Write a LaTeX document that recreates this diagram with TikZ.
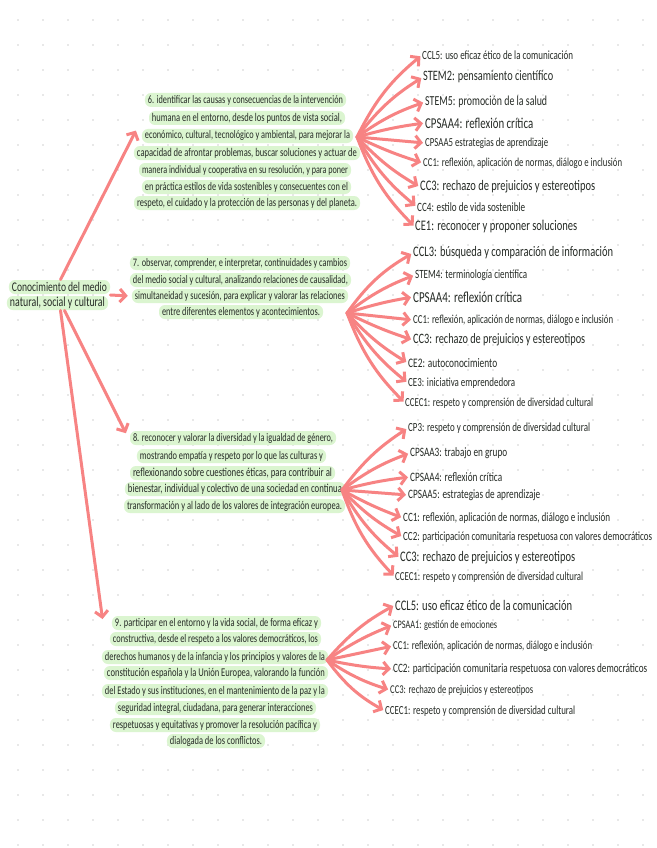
\documentclass[tikz,border=0pt]{standalone}
\usepackage{graphicx}
\usepackage{fontspec}
\setmainfont{Carlito}[FakeStretch=0.72]
\usetikzlibrary{arrows.meta,calc,fit}
\definecolor{hlgreen}{HTML}{DBF5D0}
\definecolor{arrpink}{HTML}{F78383}
\definecolor{ink}{HTML}{262B26}
\definecolor{dotgray}{HTML}{D2D2D2}
% line of a highlighted block: name, x1, x2, y, text
\newcommand\mline[5]{\node[hlline] (#1) at ({(#2+#3)/2},#4) {\resizebox{\dimexpr #3pt-#2pt\relax}{!}{#5}};}
% label: name, x1, x2, y, text
\newcommand\lab[5]{\node[lbl] (#1) at (#2,#4) {\resizebox{\dimexpr #3pt-#2pt\relax}{!}{#5}};}
\tikzset{
  hlline/.style={fill=hlgreen, rounded corners=6pt, inner xsep=3pt, inner ysep=0pt, minimum height=14pt, text=ink},
  lbl/.style={anchor=west, inner sep=0pt, text=ink},
  arr/.style={draw=arrpink, line width=3pt, line cap=round, line join=round, shorten >=2pt, -{Straight Barb[length=6pt,width=13pt]}}
}
\begin{document}
\begin{tikzpicture}[x=1pt,y=-1pt]
\useasboundingbox (0,0) rectangle (656,848);
\fill[white] (0,0) rectangle (656,848);
\foreach \x in {18,43,...,656} \foreach \y in {20,45,...,848} \fill[dotgray] (\x,\y) circle (0.9);

% root
\mline{r1}{12}{107}{287}{Conocimiento del medio}
\mline{r2}{10}{105}{303}{natural, social y cultural}
\node[fit=(r1)(r2), inner sep=0pt] (root) {};

% block 1
\mline{b1l1}{148}{343}{100}{6. identificar las causas y consecuencias de la intervención}
\mline{b1l2}{152}{342}{118}{humana en el entorno, desde los puntos de vista social,}
\mline{b1l3}{145}{350}{136}{económico, cultural, tecnológico y ambiental, para mejorar la}
\mline{b1l4}{137}{357}{153}{capacidad de afrontar problemas, buscar soluciones y actuar de}
\mline{b1l5}{142}{348}{170}{manera individual y cooperativa en su resolución, y para poner}
\mline{b1l6}{145}{348}{187}{en práctica estilos de vida sostenibles y consecuentes con el}
\mline{b1l7}{137}{357}{203}{respeto, el cuidado y la protección de las personas y del planeta.}

% block 2
\mline{b2l1}{133}{347}{263}{7. observar, comprender, e interpretar, continuidades y cambios}
\mline{b2l2}{133}{348}{280}{del medio social y cultural, analizando relaciones de causalidad,}
\mline{b2l3}{135}{345}{296}{simultaneidad y sucesión, para explicar y valorar las relaciones}
\mline{b2l4}{162}{320}{312}{entre diferentes elementos y acontecimientos.}

% block 3
\mline{b3l1}{133}{333}{438}{8. reconocer y valorar la diversidad y la igualdad de género,}
\mline{b3l2}{140}{323}{456}{mostrando empatía y respeto por lo que las culturas y}
\mline{b3l3}{133}{332}{473}{reflexionando sobre cuestiones éticas, para contribuir al}
\mline{b3l4}{128}{342}{489}{bienestar, individual y colectivo de una sociedad en continua}
\mline{b3l5}{127}{342}{506}{transformación y al lado de los valores de integración europea.}

% block 4
\mline{b4l1}{115}{318}{623}{9. participar en el entorno y la vida social, de forma eficaz y}
\mline{b4l2}{113}{318}{639}{constructiva, desde el respeto a los valores democráticos, los}
\mline{b4l3}{105}{325}{657}{derechos humanos y de la infancia y los principios y valores de la}
\mline{b4l4}{107}{325}{673}{constitución española y la Unión Europea, valorando la función}
\mline{b4l5}{105}{325}{691}{del Estado y sus instituciones, en el mantenimiento de la paz y la}
\mline{b4l6}{118}{313}{708}{seguridad integral, ciudadana, para generar interacciones}
\mline{b4l7}{113}{317}{725}{respetuosas y equitativas y promover la resolución pacífica y}
\mline{b4l8}{170}{262}{741}{dialogada de los conflictos.}

% labels block 1
\lab{a1}{422}{573}{55}{CCL5: uso eficaz ético de la comunicación}
\lab{a2}{423}{553}{77}{STEM2: pensamiento científico}
\lab{a3}{425}{547}{102}{STEM5: promoción de la salud}
\lab{a4}{425}{533}{123}{CPSAA4: reflexión crítica}
\lab{a5}{425}{548}{143}{CPSAA5 estrategias de aprendizaje}
\lab{a6}{423}{622}{163}{CC1: reflexión, aplicación de normas, diálogo e inclusión}
\lab{a7}{420}{595}{187}{CC3: rechazo de prejuicios y estereotipos}
\lab{a8}{417}{525}{207}{CC4: estilo de vida sostenible}
\lab{a9}{415}{577}{227}{CE1: reconocer y proponer soluciones}

% labels block 2
\lab{c1}{413}{613}{253}{CCL3: búsqueda y comparación de información}
\lab{c2}{415}{527}{275}{STEM4: terminología científica}
\lab{c3}{413}{522}{297}{CPSAA4: reflexión crítica}
\lab{c4}{413}{613}{320}{CC1: reflexión, aplicación de normas, diálogo e inclusión}
\lab{c5}{413}{585}{340}{CC3: rechazo de prejuicios y estereotipos}
\lab{c6}{408}{497}{363}{CE2: autoconocimiento}
\lab{c7}{408}{515}{383}{CE3: iniciativa emprendedora}
\lab{c8}{405}{593}{403}{CCEC1: respeto y comprensión de diversidad cultural}

% labels block 3
\lab{d1}{408}{590}{428}{CP3: respeto y comprensión de diversidad cultural}
\lab{d2}{410}{507}{453}{CPSAA3: trabajo en grupo}
\lab{d3}{410}{502}{477}{CPSAA4: reflexión crítica}
\lab{d4}{408}{540}{495}{CPSAA5: estrategias de aprendizaje}
\lab{d5}{403}{610}{518}{CC1: reflexión, aplicación de normas, diálogo e inclusión}
\lab{d6}{403}{652}{537}{CC2: participación comunitaria respetuosa con valores democráticos}
\lab{d7}{400}{575}{558}{CC3: rechazo de prejuicios y estereotipos}
\lab{d8}{395}{583}{577}{CCEC1: respeto y comprensión de diversidad cultural}

% labels block 4
\lab{e1}{395}{572}{605}{CCL5: uso eficaz ético de la comunicación}
\lab{e2}{393}{497}{625}{CPSAA1: gestión de emociones}
\lab{e3}{393}{592}{646}{CC1: reflexión, aplicación de normas, diálogo e inclusión}
\lab{e4}{393}{647}{669}{CC2: participación comunitaria respetuosa con valores democráticos}
\lab{e5}{390}{533}{690}{CC3: rechazo de prejuicios y estereotipos}
\lab{e6}{385}{575}{711}{CCEC1: respeto y comprensión de diversidad cultural}

% fan origins
\coordinate (f1) at (357,137);
\coordinate (f2) at (347,313);
\coordinate (f3) at (342,490);
\coordinate (f4) at (327,660);

% root arrows
\draw[arr] ($(root.north)+(2,0)$) -- ($(b1l3.north west)+(-5,0)$);
\draw[arr] (root.east) -- ($(b2l3.west)+(-2,0)$);
\draw[arr] ($(root.south)+(6,0)$) -- ($(b3l1.west)+(-3,-3)$);
\draw[arr] ($(root.south)+(2,0)$) -- ($(b4l1.west)+(-9,-2)$);

% fan 1
\draw[arr] (f1) to[bend left=12] (a1.west);
\draw[arr] (f1) to[bend left=10] (a2.west);
\draw[arr] (f1) to[bend left=8] (a3.west);
\draw[arr] (f1) to[bend left=4] (a4.west);
\draw[arr] (f1) -- (a5.west);
\draw[arr] (f1) to[bend right=4] (a6.west);
\draw[arr] (f1) to[bend right=8] (a7.west);
\draw[arr] (f1) to[bend right=10] (a8.west);
\draw[arr] (f1) to[bend right=12] (a9.west);

% fan 2
\draw[arr] (f2) to[bend left=12] (c1.west);
\draw[arr] (f2) to[bend left=8] (c2.west);
\draw[arr] (f2) to[bend left=4] (c3.west);
\draw[arr] (f2) -- (c4.west);
\draw[arr] (f2) to[bend right=4] (c5.west);
\draw[arr] (f2) to[bend right=8] (c6.west);
\draw[arr] (f2) to[bend right=10] (c7.west);
\draw[arr] (f2) to[bend right=12] (c8.west);

% fan 3
\draw[arr] (f3) to[bend left=10] (d1.west);
\draw[arr] (f3) to[bend left=8] (d2.west);
\draw[arr] (f3) to[bend left=4] (d3.west);
\draw[arr] (f3) -- (d4.west);
\draw[arr] (f3) to[bend right=4] (d5.west);
\draw[arr] (f3) to[bend right=8] (d6.west);
\draw[arr] (f3) to[bend right=10] (d7.west);
\draw[arr] (f3) to[bend right=12] (d8.west);

% fan 4
\draw[arr] (f4) to[bend left=10] (e1.west);
\draw[arr] (f4) to[bend left=6] (e2.west);
\draw[arr] (f4) -- (e3.west);
\draw[arr] (f4) to[bend right=4] (e4.west);
\draw[arr] (f4) to[bend right=8] (e5.west);
\draw[arr] (f4) to[bend right=12] (e6.west);
\end{tikzpicture}
\end{document}
